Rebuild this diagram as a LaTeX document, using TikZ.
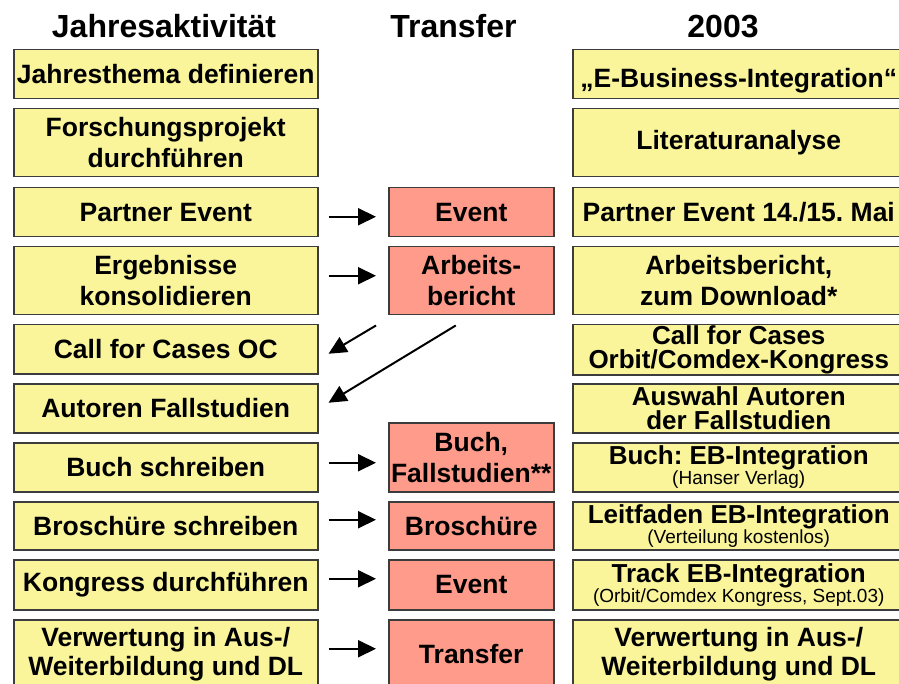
\documentclass[tikz,border=0pt]{standalone}
\usepackage{fontspec}
\setmainfont{Liberation Sans}
\usetikzlibrary{arrows.meta,calc}
\definecolor{boxyellow}{RGB}{250,245,155}
\definecolor{boxpink}{RGB}{255,155,138}
\definecolor{boxedge}{RGB}{60,60,60}
\newcommand\subnote[1]{{\fontsize{19}{20}\selectfont\mdseries #1}}
\frenchspacing
\begin{document}
\begin{tikzpicture}[x=1pt,y=-1pt,
  box/.style={draw=boxedge, line width=1.5pt, anchor=north west, inner sep=1pt,
    align=center, font=\fontsize{26.5}{31}\selectfont\bfseries},
  act/.style={box, fill=boxyellow, minimum width=304pt},
  tra/.style={box, fill=boxpink, minimum width=165pt},
  res/.style={box, fill=boxyellow, minimum width=332pt},
  one/.style={minimum height=49pt},
  two/.style={minimum height=68pt},
  tight/.style={font=\fontsize{26}{24}\selectfont\bfseries},
  withsub/.style={font=\fontsize{26}{20}\selectfont\bfseries},
  lastrow/.style={font=\fontsize{26.5}{29}\selectfont\bfseries},
  head/.style={anchor=base, font=\fontsize{32}{36}\selectfont\bfseries},
  arr/.style={line width=2pt, -{Triangle[length=18pt,width=17pt]}}]
\useasboundingbox (0,0) rectangle (899,684);
\clip (0,0) rectangle (899,684);

% column headings
\node[head] (hact) at (164,38) {Jahresaktivität};
\node[head] (htra) at (453.5,38) {Transfer};
\node[head] (hres) at (723,38) {2003};

% yearly activities
\node[act,one] (a1) at (13,49) {Jahresthema definieren};
\node[act,two] (a2) at (13,108) {Forschungsprojekt\\durchführen};
\node[act,one] (a3) at (13,187) {Partner Event};
\node[act,two] (a4) at (13,246) {Ergebnisse\\konsolidieren};
\node[act,one] (a5) at (13,324) {Call for Cases OC};
\node[act,one] (a6) at (13,383) {Autoren Fallstudien};
\node[act,one] (a7) at (13,442) {Buch schreiben};
\node[act,minimum height=48pt] (a8) at (13,501) {Broschüre schreiben};
\node[act,minimum height=50pt] (a9) at (13,559) {Kongress durchführen};
\node[act,two,lastrow] (a10) at (13,619) {Verwertung in Aus-/\\Weiterbildung und DL};

% transfer
\node[tra,one] (t3) at (388,187) {Event};
\node[tra,two] (t4) at (388,246) {Arbeits-\\bericht};
\node[tra,minimum height=69pt] (t7) at (388,422) {Buch,\\Fallstudien**};
\node[tra,minimum height=48pt] (t8) at (388,501) {Broschüre};
\node[tra,minimum height=50pt] (t9) at (388,559) {Event};
\node[tra,two] (t10) at (388,619) {Transfer};

% results 2003
\node[res,one,text height=27pt,text depth=0pt] (r1) at (572,49) {„E-Business-Integration“};
\node[res,two] (r2) at (572,108) {Literaturanalyse};
\node[res,one] (r3) at (572,187) {Partner Event 14./15. Mai};
\node[res,two] (r4) at (572,246) {Arbeitsbericht,\\zum Download*};
\node[res,one,tight] (r5) at (572,324) {Call for Cases\\Orbit/Comdex-Kongress};
\node[res,one,tight] (r6) at (572,383) {Auswahl Autoren\\der Fallstudien};
\node[res,one,withsub] (r7) at (572,442) {Buch: EB-Integration\\\subnote{(Hanser Verlag)}};
\node[res,minimum height=48pt,withsub] (r8) at (572,501) {Leitfaden EB-Integration\\\subnote{(Verteilung kostenlos)}};
\node[res,minimum height=50pt,withsub] (r9) at (572,559) {Track EB-Integration\\\subnote{(Orbit/Comdex Kongress, Sept.03)}};
\node[res,two,lastrow] (r10) at (572,619) {Verwertung in Aus-/\\Weiterbildung und DL};

% activity -> transfer
\draw[arr] ($(a3.east)+(10,4.5)$) -- ($(a3.east -| t3.west)+(-12,4.5)$);
\draw[arr] ($(a4.east)+(10,-5)$) -- ($(a4.east -| t4.west)+(-12,-5)$);
\draw[arr] ($(a7.east)+(10,-4.5)$) -- ($(a7.east -| t7.west)+(-12,-4.5)$);
\draw[arr] ($(a8.east)+(10,-6)$) -- ($(a8.east -| t8.west)+(-12,-6)$);
\draw[arr] ($(a9.east)+(10,-6)$) -- ($(a9.east -| t9.west)+(-12,-6)$);
\draw[arr] ($(a10.east)+(10,-5)$) -- ($(a10.east -| t10.west)+(-12,-5)$);

% report feeds back into the call for cases and the authors
\draw[arr] ($(t4.south west)+(-12,10)$) -- ($(a5.east)+(10,4.5)$);
\draw[arr] ($(t4.south)+(-15.5,10)$) -- ($(a6.east)+(10,-5.5)$);
\end{tikzpicture}
\end{document}
